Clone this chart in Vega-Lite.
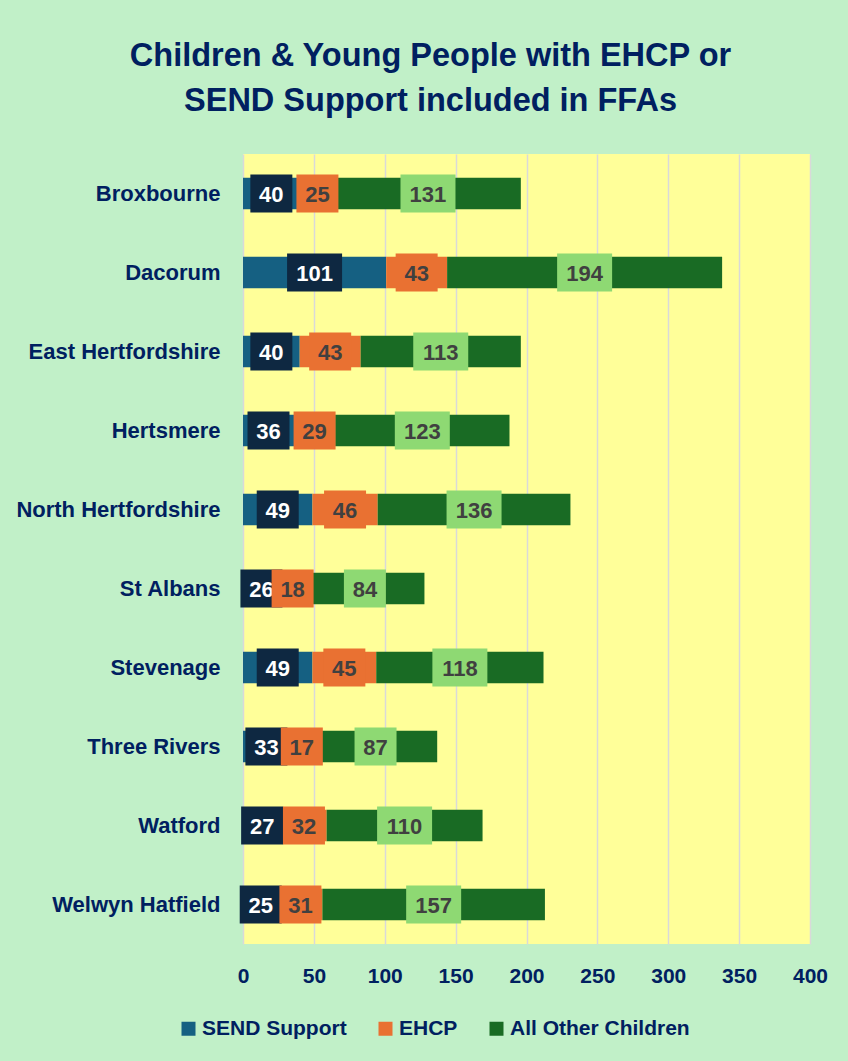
{
  "$schema": "https://vega.github.io/schema/vega-lite/v6.json",
  "width": 567,
  "height": 790,
  "autosize": {"type": "none"},
  "padding": {"left": 243, "top": 154, "right": 38, "bottom": 117},
  "background": "#C1F0C8",
  "config": {"view": {"fill": "#FFFF99", "stroke": null}, "font": "Liberation Sans"},
  "title": {
    "text": ["Children & Young People with EHCP or", "SEND Support included in FFAs"],
    "fontSize": 32.5,
    "fontWeight": "bold",
    "color": "#002060",
    "font": "Liberation Sans",
    "anchor": "middle",
    "dx": -96,
    "offset": 37,
    "lineHeight": 45
  },
  "data": {
    "values": [
      {"area": "Broxbourne", "cat": "SEND Support", "k": 1, "value": 40},
      {"area": "Broxbourne", "cat": "EHCP", "k": 2, "value": 25},
      {"area": "Broxbourne", "cat": "All Other Children", "k": 3, "value": 131},
      {"area": "Dacorum", "cat": "SEND Support", "k": 1, "value": 101},
      {"area": "Dacorum", "cat": "EHCP", "k": 2, "value": 43},
      {"area": "Dacorum", "cat": "All Other Children", "k": 3, "value": 194},
      {"area": "East Hertfordshire", "cat": "SEND Support", "k": 1, "value": 40},
      {"area": "East Hertfordshire", "cat": "EHCP", "k": 2, "value": 43},
      {"area": "East Hertfordshire", "cat": "All Other Children", "k": 3, "value": 113},
      {"area": "Hertsmere", "cat": "SEND Support", "k": 1, "value": 36},
      {"area": "Hertsmere", "cat": "EHCP", "k": 2, "value": 29},
      {"area": "Hertsmere", "cat": "All Other Children", "k": 3, "value": 123},
      {"area": "North Hertfordshire", "cat": "SEND Support", "k": 1, "value": 49},
      {"area": "North Hertfordshire", "cat": "EHCP", "k": 2, "value": 46},
      {"area": "North Hertfordshire", "cat": "All Other Children", "k": 3, "value": 136},
      {"area": "St Albans", "cat": "SEND Support", "k": 1, "value": 26},
      {"area": "St Albans", "cat": "EHCP", "k": 2, "value": 18},
      {"area": "St Albans", "cat": "All Other Children", "k": 3, "value": 84},
      {"area": "Stevenage", "cat": "SEND Support", "k": 1, "value": 49},
      {"area": "Stevenage", "cat": "EHCP", "k": 2, "value": 45},
      {"area": "Stevenage", "cat": "All Other Children", "k": 3, "value": 118},
      {"area": "Three Rivers", "cat": "SEND Support", "k": 1, "value": 33},
      {"area": "Three Rivers", "cat": "EHCP", "k": 2, "value": 17},
      {"area": "Three Rivers", "cat": "All Other Children", "k": 3, "value": 87},
      {"area": "Watford", "cat": "SEND Support", "k": 1, "value": 27},
      {"area": "Watford", "cat": "EHCP", "k": 2, "value": 32},
      {"area": "Watford", "cat": "All Other Children", "k": 3, "value": 110},
      {"area": "Welwyn Hatfield", "cat": "SEND Support", "k": 1, "value": 25},
      {"area": "Welwyn Hatfield", "cat": "EHCP", "k": 2, "value": 31},
      {"area": "Welwyn Hatfield", "cat": "All Other Children", "k": 3, "value": 157}
    ]
  },
  "transform": [
    {"stack": "value", "groupby": ["area"], "sort": [{"field": "k", "order": "ascending"}], "as": ["v0", "v1"]},
    {"calculate": "(datum.v0 + datum.v1) / 2", "as": "mid"}
  ],
  "encoding": {
    "y": {
      "field": "area",
      "type": "nominal",
      "sort": null,
      "title": null,
      "scale": {"paddingInner": 0.6, "paddingOuter": 0.3},
      "axis": {
        "domain": false,
        "ticks": false,
        "labelPadding": 23,
        "labelFontSize": 22,
        "labelFontWeight": "bold",
        "labelColor": "#002060",
        "labelLimit": 300
      }
    }
  },
  "layer": [
    {
      "mark": {"type": "bar"},
      "encoding": {
        "x": {
          "field": "v0",
          "type": "quantitative",
          "title": null,
          "scale": {"domain": [0, 400], "nice": false},
          "axis": {
            "values": [0, 50, 100, 150, 200, 250, 300, 350, 400],
            "grid": true,
            "gridColor": "#D9D9D9",
            "gridWidth": 1.5,
            "domain": false,
            "ticks": false,
            "labelFlush": false,
            "labelPadding": 21,
            "labelFontSize": 21,
            "labelFontWeight": "bold",
            "labelColor": "#002060"
          }
        },
        "x2": {"field": "v1"},
        "color": {
          "field": "cat",
          "type": "nominal",
          "sort": ["SEND Support", "EHCP", "All Other Children"],
          "scale": {
            "domain": ["SEND Support", "EHCP", "All Other Children"],
            "range": ["#156082", "#E97132", "#196B24"]
          },
          "legend": {
            "title": null,
            "orient": "none",
            "legendX": -65,
            "legendY": 864,
            "direction": "horizontal",
            "symbolType": "square",
            "symbolSize": 196,
            "symbolStrokeWidth": 0,
            "symbolOpacity": 1,
            "labelFontSize": 21,
            "labelFontWeight": "bold",
            "labelColor": "#002060",
            "labelLimit": 400,
            "labelOffset": 3,
            "columnPadding": 28
          }
        }
      }
    },
    {
      "transform": [{"filter": "datum.cat === 'SEND Support'"}],
      "mark": {"type": "point", "filled": true, "opacity": 1, "strokeWidth": 0, "fill": "#0E2841"},
      "encoding": {
        "x": {"field": "mid", "type": "quantitative", "title": null},
        "shape": {"condition": {"test": "datum.value >= 100", "value": "M-1,-0.691L1,-0.691L1,0.691L-1,0.691Z"}, "value": "M-1,-0.905L1,-0.905L1,0.905L-1,0.905Z"},
        "size": {"condition": {"test": "datum.value >= 100", "value": 3025}, "value": 1764}
      }
    },
    {
      "transform": [{"filter": "datum.cat === 'SEND Support'"}],
      "mark": {"type": "text", "fontSize": 22, "fontWeight": "bold", "fill": "#FFFFFF", "align": "center", "baseline": "middle", "dy": 1},
      "encoding": {
        "x": {"field": "mid", "type": "quantitative", "title": null},
        "text": {"field": "value", "type": "quantitative"}
      }
    },
    {
      "transform": [{"filter": "datum.cat === 'EHCP'"}],
      "mark": {"type": "point", "filled": true, "opacity": 1, "strokeWidth": 0, "fill": "#E97132"},
      "encoding": {
        "x": {"field": "mid", "type": "quantitative", "title": null},
        "shape": {"condition": {"test": "datum.value >= 100", "value": "M-1,-0.691L1,-0.691L1,0.691L-1,0.691Z"}, "value": "M-1,-0.905L1,-0.905L1,0.905L-1,0.905Z"},
        "size": {"condition": {"test": "datum.value >= 100", "value": 3025}, "value": 1764}
      }
    },
    {
      "transform": [{"filter": "datum.cat === 'EHCP'"}],
      "mark": {"type": "text", "fontSize": 22, "fontWeight": "bold", "fill": "#404040", "align": "center", "baseline": "middle", "dy": 1},
      "encoding": {
        "x": {"field": "mid", "type": "quantitative", "title": null},
        "text": {"field": "value", "type": "quantitative"}
      }
    },
    {
      "transform": [{"filter": "datum.cat === 'All Other Children'"}],
      "mark": {"type": "point", "filled": true, "opacity": 1, "strokeWidth": 0, "fill": "#8ED973"},
      "encoding": {
        "x": {"field": "mid", "type": "quantitative", "title": null},
        "shape": {"condition": {"test": "datum.value >= 100", "value": "M-1,-0.691L1,-0.691L1,0.691L-1,0.691Z"}, "value": "M-1,-0.905L1,-0.905L1,0.905L-1,0.905Z"},
        "size": {"condition": {"test": "datum.value >= 100", "value": 3025}, "value": 1764}
      }
    },
    {
      "transform": [{"filter": "datum.cat === 'All Other Children'"}],
      "mark": {"type": "text", "fontSize": 22, "fontWeight": "bold", "fill": "#404040", "align": "center", "baseline": "middle", "dy": 1},
      "encoding": {
        "x": {"field": "mid", "type": "quantitative", "title": null},
        "text": {"field": "value", "type": "quantitative"}
      }
    }
  ]
}
